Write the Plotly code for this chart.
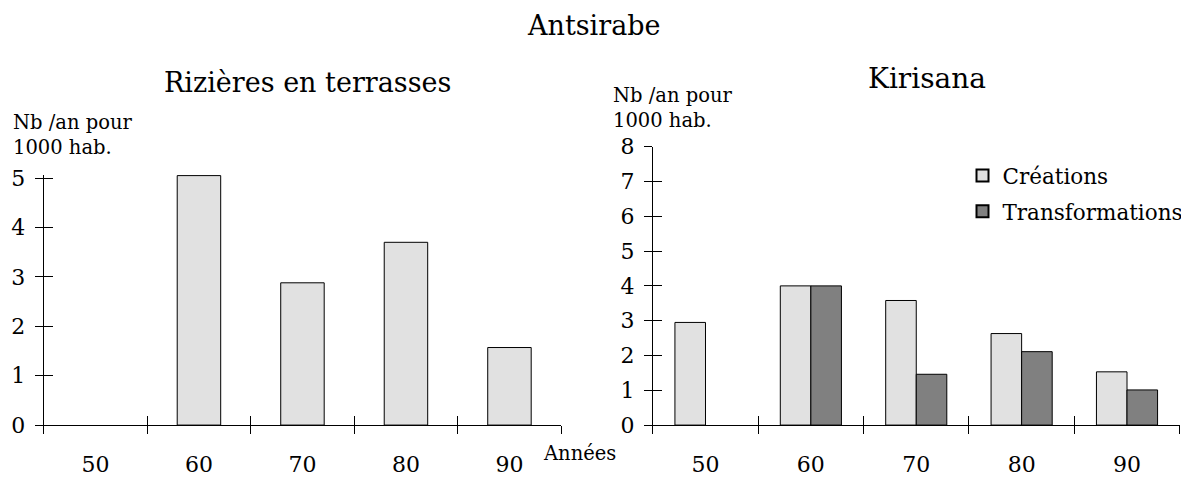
import plotly.graph_objects as go

# Data
decades = ["50", "60", "70", "80", "90"]
riz_creations = [None, 5.05, 2.88, 3.70, 1.57]
kir_creations = [2.95, 4.0, 3.58, 2.63, 1.53]
kir_transformations = [None, 4.0, 1.46, 2.11, 1.01]

FONT = "DejaVu Serif"
LIGHT = "#e1e1e1"
DARK = "#808080"
W, H = 1189, 477


# pixel position on the page -> paper coordinate
def px(x):
    return (x - 7.5) / W


def py(y):
    return 1 - ((y - 19.3) / 0.953) / H


pos = list(range(len(decades)))
bounds = [p - 0.5 for p in pos] + [pos[-1] + 0.5]

fig = go.Figure()

fig.add_trace(go.Bar(
    x=pos, y=riz_creations, width=0.42, xaxis="x", yaxis="y",
    marker=dict(color=LIGHT, line=dict(color="black", width=1)),
    showlegend=False, name="Créations"
))
fig.add_trace(go.Bar(
    x=pos, y=kir_creations, width=0.29, offset=-0.29, xaxis="x2", yaxis="y2",
    marker=dict(color=LIGHT, line=dict(color="black", width=1)),
    showlegend=False, name="Créations"
))
fig.add_trace(go.Bar(
    x=pos, y=kir_transformations, width=0.29, offset=0, xaxis="x2", yaxis="y2",
    marker=dict(color=DARK, line=dict(color="black", width=1)),
    showlegend=False, name="Transformations"
))

# legend entries (square boxes like the original)
for name, col in [("Créations", LIGHT), ("Transformations", DARK)]:
    fig.add_trace(go.Scatter(
        x=[None], y=[None], mode="markers", name=name, legendgroup=name,
        xaxis="x2", yaxis="y2",
        marker=dict(symbol="square", size=16, color=col, line=dict(color="black", width=1)),
    ))

# empty traces so the overlay axes (inner half of the crossing ticks) get drawn
for xa, ya in [("x3", "y3"), ("x4", "y4")]:
    fig.add_trace(go.Scatter(x=[None], y=[None], xaxis=xa, yaxis=ya,
                             showlegend=False, hoverinfo="skip"))


def xaxis_main(domain, anchor):
    return dict(
        domain=domain, anchor=anchor, range=[-0.5, 4.5],
        tickmode="array", tickvals=pos, ticktext=decades, ticks="",
        minor=dict(tickvals=bounds, ticks="outside", ticklen=8, tickcolor="black", tickwidth=1),
        showline=True, linecolor="black", linewidth=1,
        showgrid=False, zeroline=False, ticklabelstandoff=20,
        tickfont=dict(family=FONT, size=22, color="black"),
    )


def xaxis_in(over, anchor):
    return dict(
        overlaying=over, anchor=anchor, range=[-0.5, 4.5],
        tickmode="array", tickvals=bounds, ticks="inside", ticklen=9,
        tickcolor="black", showticklabels=False, showline=False,
        showgrid=False, zeroline=False,
    )


def yaxis_main(domain, anchor, top):
    return dict(
        domain=domain, anchor=anchor, range=[0, top],
        tickmode="array", tickvals=list(range(int(top) + 1)),
        ticks="outside", ticklen=8, tickcolor="black",
        showline=True, linecolor="black", linewidth=1,
        showgrid=False, zeroline=False, ticklabelstandoff=5,
        tickfont=dict(family=FONT, size=22, color="black"),
    )


def yaxis_in(over, anchor, top):
    return dict(
        overlaying=over, anchor=anchor, range=[0, top],
        tickmode="array", tickvals=list(range(int(top) + 1)),
        ticks="inside", ticklen=9, tickcolor="black",
        showticklabels=False, showline=False, showgrid=False, zeroline=False,
    )


fig.update_layout(
    width=W, height=H,
    margin=dict(l=0, r=0, t=0, b=0),
    paper_bgcolor="white", plot_bgcolor="white",
    barmode="overlay",
    font=dict(family=FONT, color="black", size=16),
    xaxis=xaxis_main([px(43.2), px(560.7)], "y"),
    yaxis=yaxis_main([py(426.7), py(174.8)], "x", 5.07),
    xaxis2=xaxis_main([px(652.3), px(1179.2)], "y2"),
    yaxis2=yaxis_main([py(426.7), py(146.7)], "x2", 8),
    xaxis3=xaxis_in("x", "y"),
    yaxis3=yaxis_in("y", "x", 5.07),
    xaxis4=xaxis_in("x2", "y2"),
    yaxis4=yaxis_in("y2", "x2", 8),
    legend=dict(
        x=px(962), y=py(155), xanchor="left", yanchor="top",
        font=dict(family=FONT, size=21.5, color="black"),
        bgcolor="rgba(0,0,0,0)", itemwidth=30, tracegroupgap=5,
        itemsizing="constant",
    ),
)

titles = [
    dict(text="Antsirabe", x=593, y=25, size=27),
    dict(text="Rizières en terrasses", x=307, y=82, size=27),
    dict(text="Kirisana", x=926, y=78, size=28),
]
for a in titles:
    fig.add_annotation(
        text=a["text"], x=px(a["x"]), y=py(a["y"]),
        xref="paper", yref="paper", showarrow=False,
        xanchor="center", yanchor="middle",
        font=dict(family=FONT, size=a["size"], color="black"),
    )

side_labels = [
    dict(text="Nb /an pour<br>1000 hab.", x=10, y=135),
    dict(text="Nb /an pour<br>1000 hab.", x=610, y=107.5),
]
for a in side_labels:
    fig.add_annotation(
        text=a["text"], x=px(a["x"]), y=py(a["y"]),
        xref="paper", yref="paper", showarrow=False, align="left",
        xanchor="left", yanchor="middle",
        font=dict(family=FONT, size=19.5, color="black"),
    )

fig.add_annotation(
    text="Années", x=px(540.5), y=py(455), xref="paper", yref="paper",
    showarrow=False, xanchor="left", yanchor="middle",
    font=dict(family=FONT, size=19.5, color="black"),
)

fig.write_html("out.html")
